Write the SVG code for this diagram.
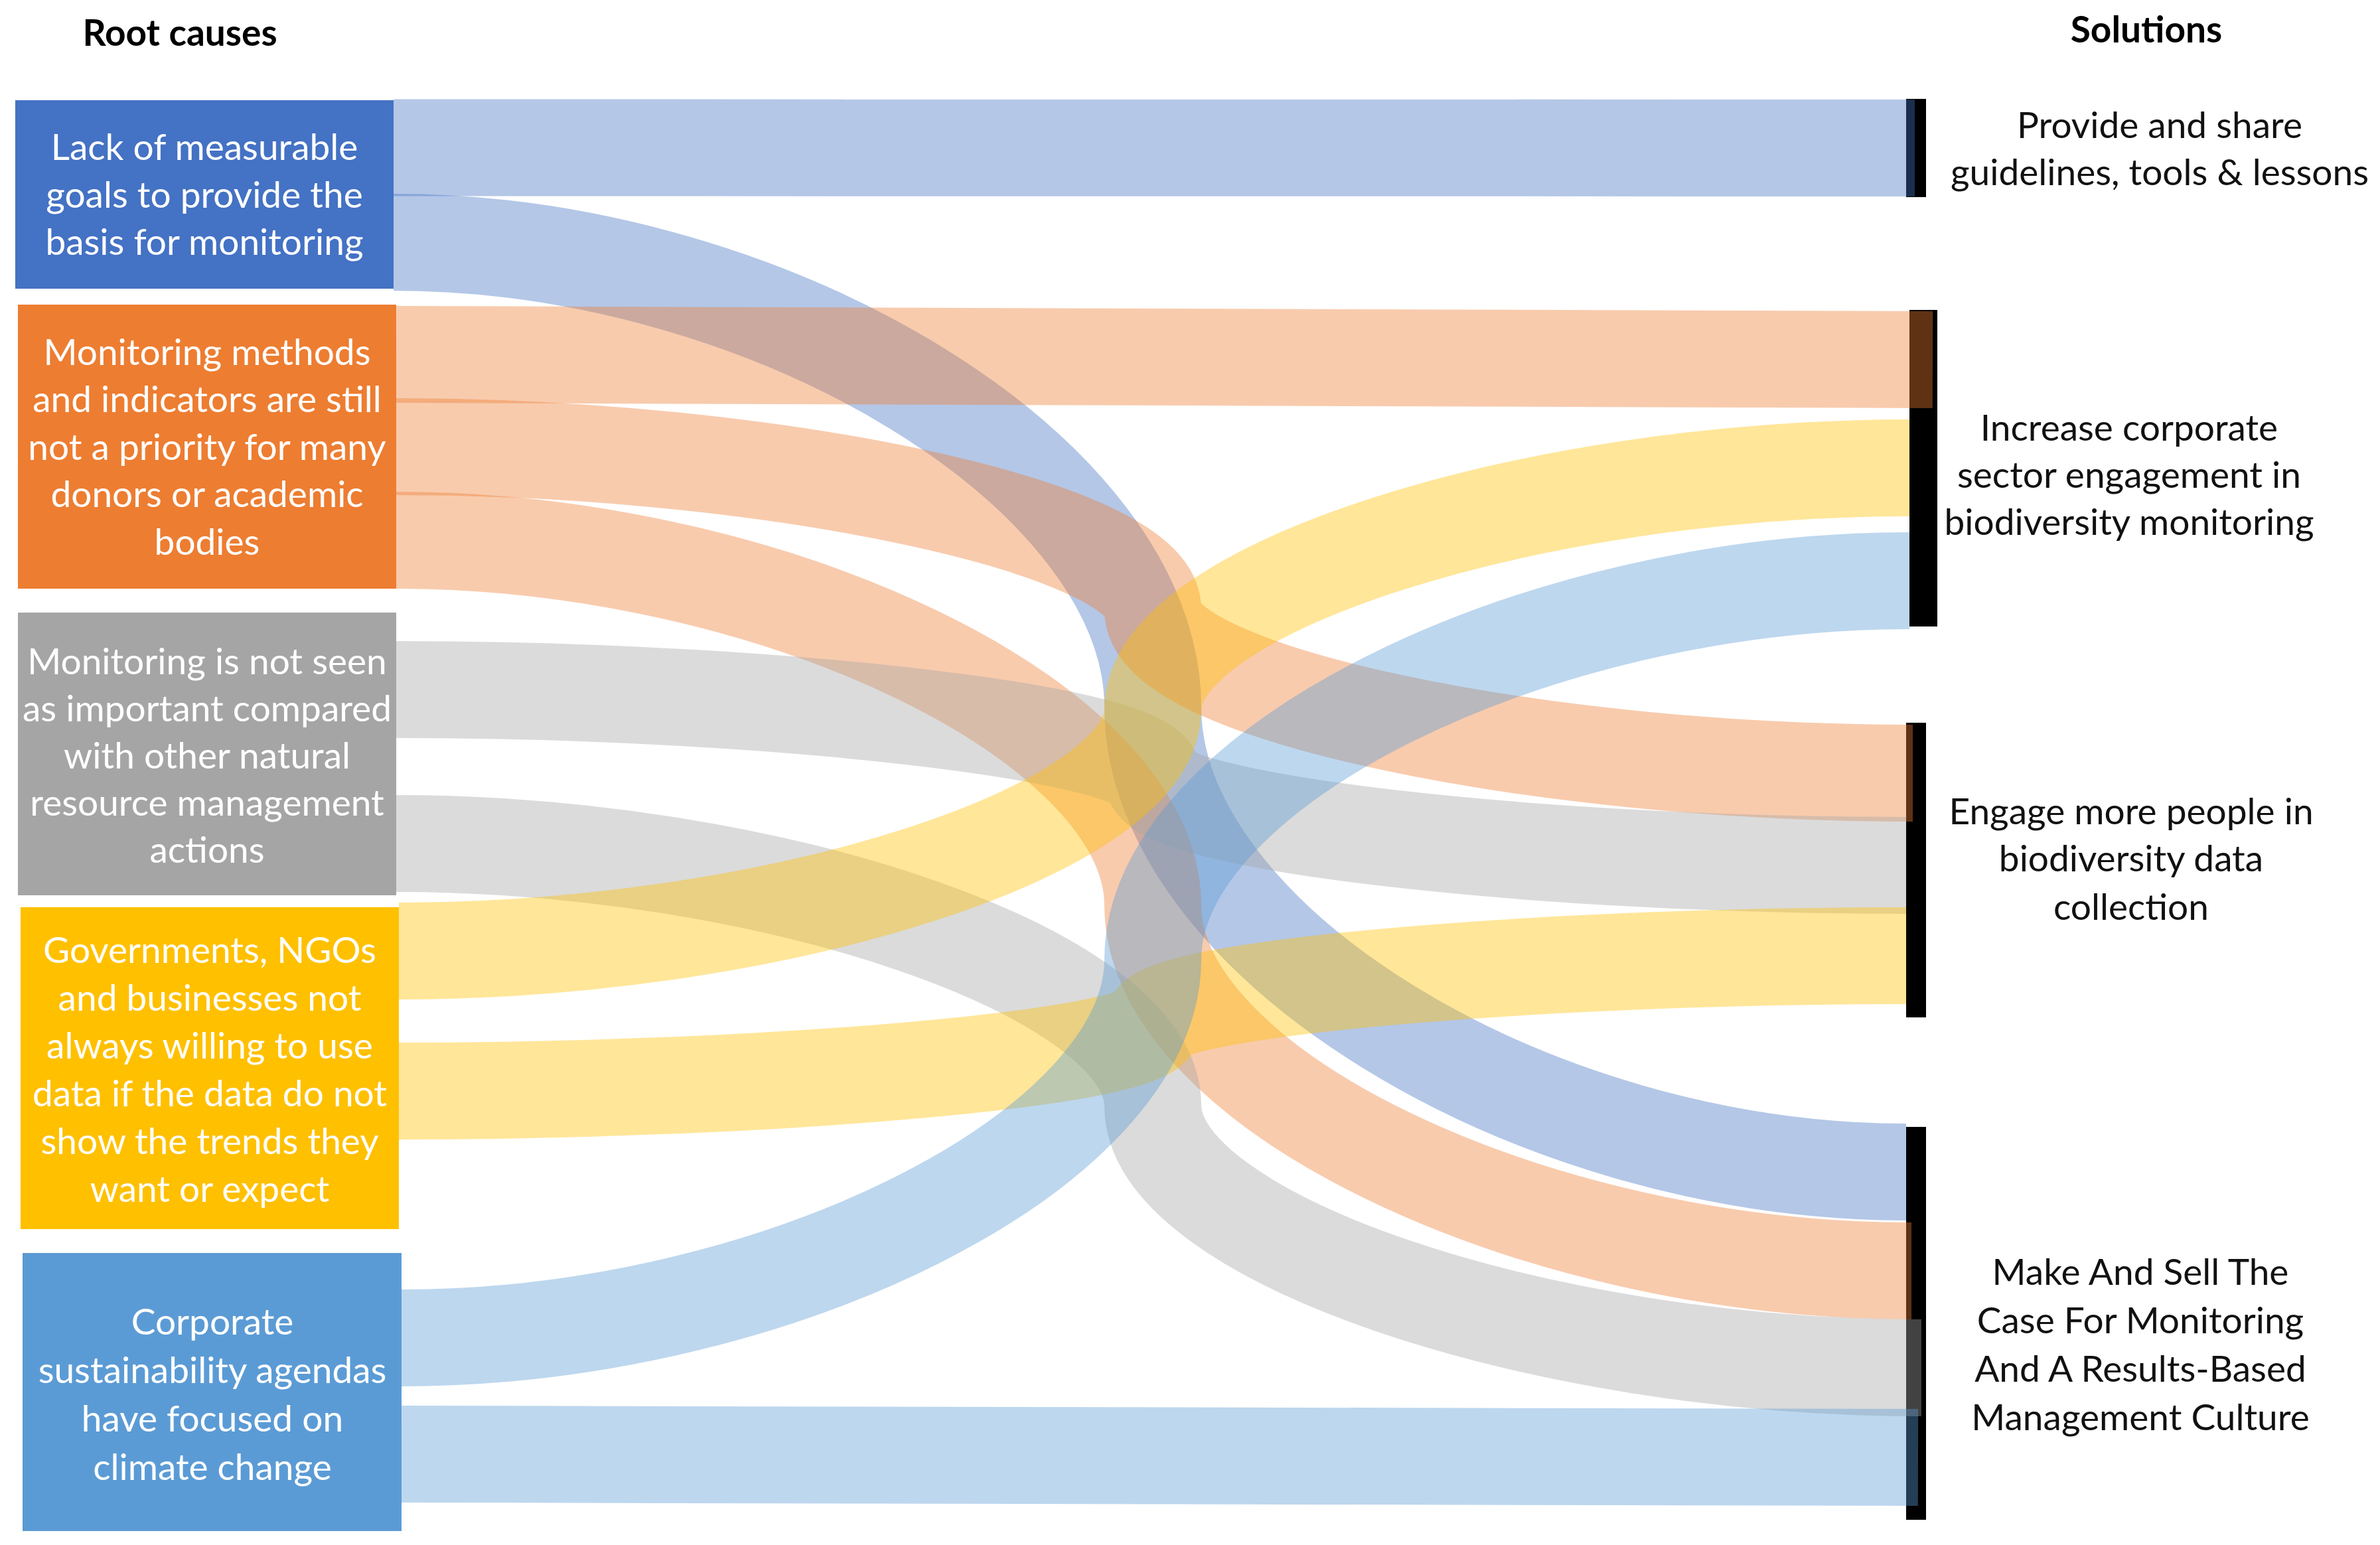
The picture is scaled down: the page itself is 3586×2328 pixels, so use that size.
<svg xmlns="http://www.w3.org/2000/svg" width="3586" height="2328" viewBox="0 0 3586 2328">
<style>
.t{font-family:Lato,"Noto Sans","Liberation Sans",sans-serif;font-size:55px;text-anchor:middle}
.w{fill:#fff}
.k{fill:#111}
.h{font-family:Lato,"Noto Sans","Liberation Sans",sans-serif;font-size:55px;font-weight:bold;fill:#000;text-anchor:middle}
.bar{fill:#000}
.f{fill:none;stroke-width:146;stroke-opacity:0.4;stroke-linecap:butt}
.c1{stroke:#4472C4}.c2{stroke:#ED7D31}.c3{stroke:#A5A5A5}.c4{stroke:#FFC000}.c5{stroke:#5B9BD5}
</style>
<rect width="3586" height="2328" fill="#fff"/>
<text class="h" x="271" y="69">Root causes</text>
<text class="h" x="3234" y="64">Solutions</text>

<g id="cause1">
<rect x="23" y="151" width="570" height="284" fill="#4472C4"/>
<text class="t w" x="308"><tspan x="308" y="241">Lack of measurable</tspan><tspan x="308" y="313">goals to provide the</tspan><tspan x="308" y="384">basis for monitoring</tspan></text>
</g>
<g id="cause2">
<rect x="27" y="459" width="570" height="428" fill="#ED7D31"/>
<text class="t w" x="312"><tspan x="312" y="550">Monitoring methods</tspan><tspan x="312" y="621">and indicators are still</tspan><tspan x="312" y="693">not a priority for many</tspan><tspan x="312" y="764">donors or academic</tspan><tspan x="312" y="836">bodies</tspan></text>
</g>
<g id="cause3">
<rect x="27" y="923" width="570" height="426" fill="#A5A5A5"/>
<text class="t w" x="312"><tspan x="312" y="1016">Monitoring is not seen</tspan><tspan x="312" y="1087">as important compared</tspan><tspan x="312" y="1158">with other natural</tspan><tspan x="312" y="1229">resource management</tspan><tspan x="312" y="1300">actions</tspan></text>
</g>
<g id="cause4">
<rect x="31" y="1367" width="570" height="485" fill="#FFC000"/>
<text class="t w" x="316"><tspan x="316" y="1451">Governments, NGOs</tspan><tspan x="316" y="1523">and businesses not</tspan><tspan x="316" y="1595">always willing to use</tspan><tspan x="316" y="1667">data if the data do not</tspan><tspan x="316" y="1739">show the trends they</tspan><tspan x="316" y="1811">want or expect</tspan></text>
</g>
<g id="cause5">
<rect x="34" y="1888" width="571" height="419" fill="#5B9BD5"/>
<text class="t w" x="320"><tspan x="320" y="2011">Corporate</tspan><tspan x="320" y="2084">sustainability agendas</tspan><tspan x="320" y="2157">have focused on</tspan><tspan x="320" y="2230">climate change</tspan></text>
</g>

<g id="solution1">
<rect class="bar" x="2872" y="149" width="30" height="148"/>
<text class="t k" x="3254"><tspan x="3254" y="208">Provide and share</tspan><tspan x="3254" y="279">guidelines, tools &amp; lessons</tspan></text>
</g>
<g id="solution2">
<rect class="bar" x="2877" y="467" width="42" height="477"/>
<text class="t k" x="3208"><tspan x="3208" y="664">Increase corporate</tspan><tspan x="3208" y="735">sector engagement in</tspan><tspan x="3208" y="806">biodiversity monitoring</tspan></text>
</g>
<g id="solution3">
<rect class="bar" x="2872" y="1089" width="30" height="444"/>
<text class="t k" x="3211"><tspan x="3211" y="1242">Engage more people in</tspan><tspan x="3211" y="1313">biodiversity data</tspan><tspan x="3211" y="1386">collection</tspan></text>
</g>
<g id="solution4">
<rect class="bar" x="2872" y="1698" width="30" height="592"/>
<text class="t k" x="3225"><tspan x="3225" y="1936">Make And Sell The</tspan><tspan x="3225" y="2009">Case For Monitoring</tspan><tspan x="3225" y="2082">And A Results-Based</tspan><tspan x="3225" y="2155">Management Culture</tspan></text>
</g>

<g id="connectors">
<path class="f c1" d="M593,222.5 L2885,223"/>
<path class="f c1" d="M593,365 C1165,365 1737,715.25 1737,1065.5 C1737,1415.75 2304.5,1766 2872,1766"/>
<path class="f c2" d="M597,534 L2912,542"/>
<path class="f c2" d="M597,673 C1167,673 1737,796 1737,919 C1737,1042 2309.5,1165 2882,1165"/>
<path class="f c2" d="M597,814 C1167,814 1737,1089.25 1737,1364.5 C1737,1639.75 2308.5,1915 2880,1915"/>
<path class="f c3" d="M597,1039 C1167,1039 1737,1105.25 1737,1171.5 C1737,1237.75 2304.5,1304 2872,1304"/>
<path class="f c3" d="M597,1271 C1167,1271 1737,1468.5 1737,1666 C1737,1863.5 2316,2061 2895,2061"/>
<path class="f c4" d="M601,1433 C1169,1433 1737,1251 1737,1069 C1737,887 2307,705 2877,705"/>
<path class="f c4" d="M601,1644 C1169,1644 1737,1593 1737,1542 C1737,1491 2304.5,1440 2872,1440"/>
<path class="f c5" d="M605,2016 C1171,2016 1737,1730.75 1737,1445.5 C1737,1160.25 2307,875 2877,875"/>
<path class="f c5" d="M605,2191 L2890,2196"/>
</g>
</svg>
